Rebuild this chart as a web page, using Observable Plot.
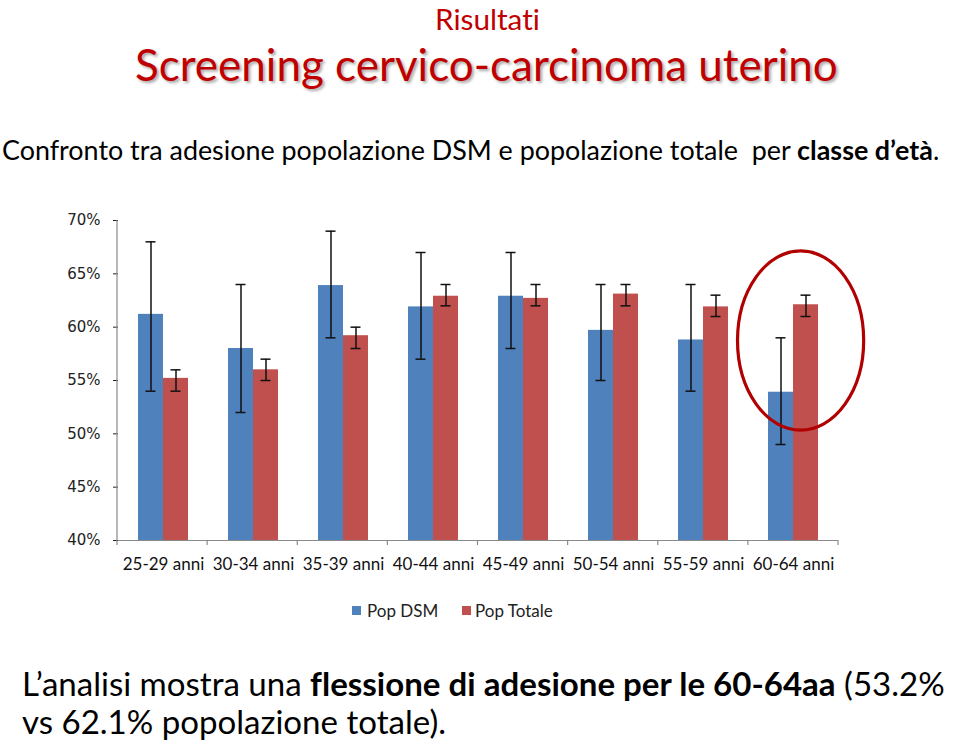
<!DOCTYPE html>
<html><head><meta charset="utf-8">
<script src="https://cdn.jsdelivr.net/npm/d3@7"></script>
<script src="https://cdn.jsdelivr.net/npm/@observablehq/plot@0.6"></script>
<style>
html,body{margin:0;padding:0;background:#fff}
body{width:960px;height:744px;position:relative;overflow:hidden;font-family:Lato,"Open Sans",sans-serif;color:#000;font-variant-ligatures:none}
.t{position:absolute;white-space:nowrap;line-height:1.25;left:0;top:0}
.red{color:#c00000}
#chart{position:absolute;left:0;top:200px}
.leg{position:absolute;top:0;white-space:nowrap;font-size:17px;color:#222}
.sw{position:absolute;width:9px;height:9px}
</style></head><body>
<div id="t1" class="t red" style="line-height:1">Risultati</div>
<div id="t2" class="t red" style="text-shadow:2px 2px 3px rgba(0,0,0,0.35)">Screening cervico-carcinoma uterino</div>
<div id="t3" class="t">Confronto tra adesione popolazione DSM e popolazione totale&nbsp; per <b>classe d’età</b>.</div>
<div id="chart"></div>
<div id="legend"></div>
<div id="b1" class="t">L’analisi mostra una <b>flessione di adesione per le 60-64aa</b> (53.2%</div>
<div id="b2" class="t">vs 62.1% popolazione totale).</div>
<script>
// ---- data ----
const categories = ["25-29 anni","30-34 anni","35-39 anni","40-44 anni","45-49 anni","50-54 anni","55-59 anni","60-64 anni"];
const series = ["Pop DSM","Pop Totale"];
const colors = ["#4f81bd","#c0504d"];
const dsmValues = [61.2, 58.0, 63.9, 61.9, 62.9, 59.7, 58.8, 53.9];
const dsmLow    = [54, 52, 59, 57, 58, 55, 54, 49];
const dsmHigh   = [68, 64, 69, 67, 67, 64, 64, 59];
const totValues = [55.2, 56.0, 59.2, 62.9, 62.7, 63.1, 61.9, 62.1];
const totLow    = [54, 55, 58, 62, 62, 62, 61, 61];
const totHigh   = [56, 57, 60, 64, 64, 64, 63, 63];
const yTicks = [40, 45, 50, 55, 60, 65, 70];
const highlight = {cat: "60-64 anni", cy: 58.7, ryPct: 8.4, rxBands: 0.70, dxBands: 0.085};

const data = [];
categories.forEach((c, i) => {
  data.push({cat: c, series: series[0], value: dsmValues[i], low: dsmLow[i], high: dsmHigh[i]});
  data.push({cat: c, series: series[1], value: totValues[i], low: totLow[i], high: totHigh[i]});
});

const chart = Plot.plot({
  width: 960, height: 380,
  marginTop: 20, marginBottom: 40, marginLeft: 117, marginRight: 122,
  style: {fontFamily: "Lato, sans-serif", fontSize: "17px", color: "#222", background: "transparent"},
  facet: {data, x: "cat"},
  fx: {domain: categories, padding: 0, axis: "bottom", tickSize: 0, tickPadding: 17, label: null},
  x: {domain: series, axis: null, paddingInner: 0, paddingOuter: 0.765, align: 0.5},
  y: {domain: [yTicks[0], yTicks[yTicks.length - 1]], ticks: yTicks, tickFormat: d => d + "%", tickSize: 5, tickPadding: 13, label: null},
  color: {domain: series, range: colors},
  marks: [
    Plot.barY(data, {x: "series", y1: yTicks[0], y2: "value", fill: "series"}),
    Plot.ruleX(data, {x: "series", y1: "low", y2: "high", stroke: "#111", strokeWidth: 1.5}),
    Plot.tickY(data, {x: "series", y: "low", stroke: "#111", strokeWidth: 1.5, insetLeft: 7.5, insetRight: 7.5}),
    Plot.tickY(data, {x: "series", y: "high", stroke: "#111", strokeWidth: 1.5, insetLeft: 7.5, insetRight: 7.5}),
    Plot.ruleY([yTicks[0]], {stroke: "#8a8a8a", strokeWidth: 1.2})
  ]
});
document.getElementById("chart").appendChild(chart);

// styling of axes
const svg = d3.select(chart);
svg.selectAll('[aria-label="y-axis tick"]').attr("stroke", "#8a8a8a");
svg.selectAll('[aria-label="y-axis tick label"]').style("font-family", "'DejaVu Sans', Verdana, sans-serif").style("font-size", "15px").attr("fill", "#222");
svg.selectAll('[aria-label="fx-axis tick label"]').attr("fill", "#111");

// axis lines + category boundary ticks, positioned through the Plot scales
const fxS = chart.scale("fx"), yS = chart.scale("y");
const yScale = d3.scaleLinear(yS.domain, yS.range);
const fr = fxS.range, n = categories.length, step = (fr[1] - fr[0]) / n;
const y0 = yScale(yTicks[0]), yTop = yScale(yTicks[yTicks.length - 1]);
const ann = svg.append("g");
ann.append("line").attr("x1", fr[0]).attr("x2", fr[0]).attr("y1", yTop).attr("y2", y0).attr("stroke", "#8a8a8a").attr("stroke-width", 1.2);
d3.range(n + 1).forEach(i => {
  const x = fr[0] + i * step;
  ann.append("line").attr("x1", x).attr("x2", x).attr("y1", y0).attr("y2", y0 + 5).attr("stroke", "#8a8a8a").attr("stroke-width", 1.2);
});
// highlight ellipse
const hi = categories.indexOf(highlight.cat);
ann.append("ellipse")
  .attr("cx", fr[0] + (hi + 0.5 + highlight.dxBands) * step)
  .attr("cy", yScale(highlight.cy))
  .attr("rx", highlight.rxBands * step)
  .attr("ry", Math.abs(yScale(highlight.cy + highlight.ryPct) - yScale(highlight.cy)))
  .attr("fill", "none").attr("stroke", "#b10000").attr("stroke-width", 3.2);

// text fitting helpers
function baselineOffset(el) {
  const m = document.createElement("span");
  m.style.display = "inline-block"; m.style.width = "0"; m.style.height = "0"; m.style.verticalAlign = "baseline";
  el.appendChild(m);
  const off = m.getBoundingClientRect().top - el.getBoundingClientRect().top;
  el.removeChild(m);
  return off;
}
function placeText(el, x0, x1, baseline) {
  el.style.top = "0px"; el.style.left = "0px";
  if (x1 != null) {
    el.style.fontSize = "40px";
    const w = el.getBoundingClientRect().width;
    el.style.fontSize = (40 * (x1 - x0) / w) + "px";
  }
  el.style.left = x0 + "px";
  const off = baselineOffset(el);
  el.style.top = (baseline - off) + "px";
}

// legend
const leg = document.getElementById("legend");
const legItems = [{x: 352, tx: 367}, {x: 462, tx: 475}];
series.forEach((s, i) => {
  const sw = document.createElement("div");
  sw.className = "sw"; sw.style.left = legItems[i].x + "px"; sw.style.top = "606px"; sw.style.background = colors[i];
  leg.appendChild(sw);
  const tx = document.createElement("div");
  tx.className = "leg t"; tx.textContent = s; tx.style.fontSize = "17px"; tx.style.color = "#222";
  leg.appendChild(tx);
  placeText(tx, legItems[i].tx, null, 617);
});

placeText(document.getElementById("t1"), 435, 540, 30);
placeText(document.getElementById("t2"), 135, 838, 81);
placeText(document.getElementById("t3"), 2, 940, 160);
placeText(document.getElementById("b1"), 22, 945, 696);
const b2 = document.getElementById("b2");
b2.style.fontSize = document.getElementById("b1").style.fontSize;
placeText(b2, 22, null, 734);
</script>
</body></html>
